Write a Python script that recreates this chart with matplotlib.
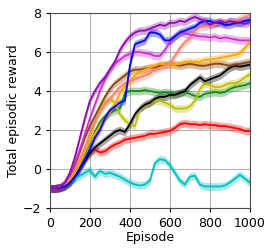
import numpy as np
import matplotlib
matplotlib.use("Agg")
from matplotlib import pyplot as plt

# episodes, every 25
episodes = list(range(0, 1001, 25))

purple = [-1, -1, -0.95, -0.7, -0.2, 0.6, 1.6, 2.6, 3.5, 4.0, 4.4, 4.7, 5.1, 5.5, 6.1, 6.5,
          6.8, 7.0, 7.1, 7.1, 7.2, 7.3, 7.4, 7.35, 7.5, 7.5, 7.6, 7.55, 7.7, 7.8, 7.7, 7.6,
          7.4, 7.5, 7.6, 7.5, 7.6, 7.55, 7.5, 7.45, 7.55]
magenta = [-1, -1, -0.95, -0.75, -0.3, 0.3, 1.0, 1.8, 2.6, 3.3, 4.0, 4.6, 5.1, 5.4, 5.6, 5.8,
           5.9, 6.0, 6.0, 5.95, 5.9, 5.8, 5.8, 6.1, 6.5, 6.8, 7.0, 6.95, 6.9, 6.85, 6.8, 6.8,
           6.75, 6.8, 6.7, 6.75, 6.7, 6.65, 6.6, 6.6, 6.6]
blue = [-1, -1, -0.97, -0.9, -0.7, -0.4, 0.0, 0.5, 1.0, 1.6, 2.0, 2.6, 3.0, 3.2, 3.4, 3.5,
        5.3, 6.4, 6.5, 6.6, 7.0, 7.0, 6.9, 6.6, 6.6, 6.8, 7.0, 7.1, 7.2, 7.3, 7.5, 7.6,
        7.6, 7.5, 7.5, 7.4, 7.4, 7.5, 7.5, 7.6, 7.65]
salmon = [-1, -1, -0.95, -0.8, -0.5, -0.1, 0.5, 1.1, 1.8, 2.4, 2.9, 3.3, 3.6, 3.9, 4.2, 4.4,
          4.5, 4.6, 4.7, 4.8, 4.9, 5.1, 5.2, 5.3, 5.4, 5.8, 6.2, 6.5, 6.7, 7.1, 7.3, 7.3,
          7.4, 7.4, 7.5, 7.5, 7.6, 7.6, 7.7, 7.8, 7.9]
orange = [-1, -1, -0.97, -0.85, -0.6, -0.2, 0.3, 0.9, 1.4, 1.8, 2.2, 2.6, 2.9, 3.3, 3.9, 4.2,
          4.5, 4.8, 5.0, 5.1, 5.2, 5.3, 5.4, 5.35, 5.4, 5.35, 5.4, 5.5, 5.5, 5.5, 5.5, 5.6,
          5.6, 5.65, 5.7, 5.75, 5.8, 5.85, 5.95, 6.2, 6.5]
brown = [-1, -1, -0.95, -0.75, -0.35, 0.2, 0.9, 1.6, 2.2, 2.7, 3.2, 3.7, 4.1, 4.4, 4.6, 4.8,
         5.0, 5.1, 5.1, 5.15, 5.2, 5.2, 5.3, 5.35, 5.4, 5.35, 5.3, 5.35, 5.4, 5.35, 5.3, 5.3,
         5.35, 5.4, 5.4, 5.35, 5.3, 5.35, 5.4, 5.45, 5.5]
black = [-1, -1, -0.97, -0.9, -0.7, -0.4, 0.0, 0.4, 0.8, 1.1, 1.3, 1.5, 1.7, 1.9, 2.0, 1.9,
         2.3, 2.8, 3.1, 3.3, 3.4, 3.6, 3.7, 3.7, 3.8, 3.8, 3.9, 4.0, 4.3, 4.5, 4.7, 4.5,
         4.6, 4.7, 4.8, 5.0, 5.2, 5.3, 5.25, 5.3, 5.35]
olive = [-1, -1, -0.97, -0.85, -0.6, -0.2, 0.3, 0.9, 1.6, 2.4, 3.0, 3.4, 3.6, 3.4, 2.8, 2.5,
         2.3, 2.2, 3.1, 3.3, 3.4, 3.5, 3.5, 3.4, 3.3, 3.1, 3.1, 3.1, 3.2, 3.5, 4.1, 4.4,
         4.3, 4.2, 4.2, 4.3, 4.4, 4.4, 4.5, 4.7, 4.85]
green = [-1, -1, -0.97, -0.85, -0.6, -0.25, 0.2, 0.8, 1.3, 1.9, 2.4, 2.7, 2.9, 3.0, 3.1, 3.9,
         4.0, 4.0, 4.0, 4.05, 4.0, 3.95, 3.9, 3.95, 3.9, 3.85, 3.9, 3.95, 3.85, 3.75, 3.7, 3.85,
         3.9, 3.95, 3.9, 3.95, 4.1, 4.2, 4.25, 4.3, 4.4]
red = [-1, -1, -0.97, -0.85, -0.6, -0.3, 0.1, 0.5, 0.85, 1.0, 0.85, 0.9, 1.1, 1.25, 1.35, 1.5,
       1.55, 1.6, 1.65, 1.7, 1.8, 1.8, 1.85, 1.9, 1.95, 2.1, 2.3, 2.35, 2.3, 2.3, 2.25, 2.3,
       2.25, 2.25, 2.2, 2.2, 2.15, 2.1, 2.05, 1.95, 1.95]
cyan = [-1, -1, -0.95, -0.85, -0.7, -0.5, -0.35, -0.2, -0.05, -0.4, -0.1, -0.25, -0.2, -0.3, -0.4, -0.55,
        -0.7, -0.8, -0.85, -0.8, -0.6, 0.3, 0.5, 0.45, 0.2, -0.2, -0.6, -0.8, -0.4, -0.35, -0.8, -0.9,
        -0.9, -0.9, -0.9, -0.85, -0.7, -0.5, -0.3, -0.5, -0.7]

series = [
    (cyan, "#00bfbf"),
    (red, "#ff0000"),
    (green, "#1a8c1a"),
    (olive, "#bfbf00"),
    (black, "#000000"),
    (brown, "#8b4513"),
    (orange, "#ffa500"),
    (salmon, "#fa8072"),
    (magenta, "#cc33cc"),
    (blue, "#0000ff"),
    (purple, "#8e0ca8"),
]

fig = plt.figure(figsize=(2.74, 2.52), dpi=100)
ax = fig.add_axes([0.182, 0.175, 0.730, 0.773])

x = np.array(episodes)
for vals, col in series:
    y = np.array(vals)
    ax.fill_between(x, y - 0.2, y + 0.2, color=col, alpha=0.35, linewidth=0)
    ax.plot(x, y, color=col, linewidth=1.3)

ax.set_xlim(0, 1000)
ax.set_ylim(-2, 8)
ax.set_xticks([0, 200, 400, 600, 800, 1000])
ax.set_yticks([-2, 0, 2, 4, 6, 8])
ax.grid(True, color="0.7", linewidth=0.8)
ax.set_axisbelow(True)
ax.tick_params(labelsize=9, length=3)
for s in ax.spines.values():
    s.set_color("0.3")
ax.set_xlabel("Episode", fontsize=9, labelpad=1)
ax.set_ylabel("Total episodic reward", fontsize=9, labelpad=2)

plt.savefig("out.png", dpi=100)
